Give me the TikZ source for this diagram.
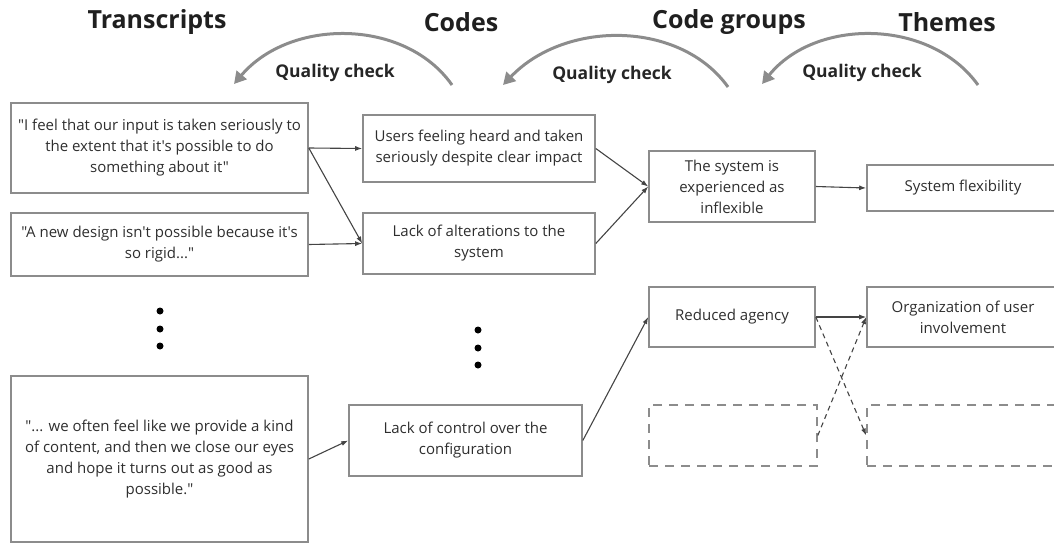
\documentclass[tikz,border=0pt]{standalone}
\usepackage{fontspec}
\setmainfont{Open Sans}[Ligatures=TeXOff]
\usetikzlibrary{positioning,arrows.meta}
\definecolor{boxgray}{HTML}{8C8C8C}
\definecolor{inkgray}{HTML}{2E2E2E}
\definecolor{linkgray}{HTML}{444444}
\tikzset{
  linkarrow/.style={-{Latex[length=7pt, width=5pt]}, line width=1.1pt, draw=linkgray},
  dasharrow/.style={linkarrow, dash pattern=on 5pt off 4pt},
  checkarrow/.style={-{Triangle[length=12pt, width=13pt]}, line width=3pt, draw=boxgray},
  quotebox/.style={draw=boxgray, line width=1.6pt, text=inkgray, align=center, inner sep=0pt, font=\fontsize{15}{21}\selectfont},
  emptybox/.style={draw=boxgray, line width=1.6pt, dash pattern=on 9pt off 7pt, inner sep=0pt},
  header/.style={font=\bfseries\fontsize{25}{28}\selectfont, text=black!88},
  checklabel/.style={font=\bfseries\fontsize{17.5}{20}\selectfont, text=black!85},
  dot/.style={circle, fill=black, inner sep=0pt, minimum size=7pt}
}
\begin{document}
\begin{tikzpicture}[x=1pt, y=-1pt]
  \useasboundingbox (0,0) rectangle (1054,543);
  % column headers
  \node[header] (hTrans) at (157,22) {Transcripts};
  \node[header] (hCodes) at (461,22) {Codes};
  \node[header] (hGroups) at (729,22) {Code groups};
  \node[header] (hThemes) at (947,22) {Themes};
  % quality checks
  \node[checklabel] (qc1) at (335,73) {Quality check};
  \node[checklabel] (qc2) at (612,75) {Quality check};
  \node[checklabel] (qc3) at (862,73) {Quality check};
  \coordinate (qc1s) at (452,85); \coordinate (qc1e) at (234,84);
  \coordinate (qc2s) at (728,87); \coordinate (qc2e) at (503,85);
  \coordinate (qc3s) at (978,85); \coordinate (qc3e) at (762,84);
  \draw[checkarrow] (qc1s) .. controls (405,18) and (290,18) .. (qc1e);
  \draw[checkarrow] (qc2s) .. controls (680,20) and (565,20) .. (qc2e);
  \draw[checkarrow] (qc3s) .. controls (930,18) and (815,18) .. (qc3e);
  % transcripts
  \node[quotebox, minimum width=297, minimum height=90] (t1) at (159.5,148)
    {"I feel that our input is taken seriously to\\the extent that it's possible to do\\something about it"};
  \node[quotebox, minimum width=297, minimum height=63] (t2) at (159.5,244.5)
    {"A new design isn't possible because it's\\so rigid..."};
  \node[quotebox, minimum width=297, minimum height=166] (t3) at (159.5,459)
    {"... we often feel like we provide a kind\\of content, and then we close our eyes\\and hope it turns out as good as\\possible."};
  % codes
  \node[quotebox, minimum width=232, minimum height=67] (c1) at (479,148.5)
    {Users feeling heard and taken\\seriously despite clear impact};
  \node[quotebox, minimum width=232, minimum height=61] (c2) at (479,243.5)
    {Lack of alterations to the\\system};
  \node[quotebox, minimum width=233, minimum height=71] (c3) at (465.5,440.5)
    {Lack of control over the\\configuration};
  % code groups
  \node[quotebox, minimum width=166, minimum height=71] (g1) at (732,186.5)
    {The system is\\experienced as\\inflexible};
  \node[quotebox, minimum width=166, minimum height=60] (g2) at (732,317)
    {Reduced agency};
  \node[emptybox, minimum width=168, minimum height=61] (g3) at (733,435.5) {};
  % themes
  \node[quotebox, minimum width=192, minimum height=46] (th1) at (963,188)
    {System flexibility};
  \node[quotebox, minimum width=192, minimum height=60] (th2) at (963,317)
    {Organization of user\\involvement};
  \node[emptybox, minimum width=192, minimum height=61] (th3) at (963,435.5) {};
  % more items
  \foreach \y [count=\i] in {311,329,346}
    \node[dot] (tdot\i) at (160,\y) {};
  \foreach \y [count=\i] in {330,348,365}
    \node[dot] (cdot\i) at (478,\y) {};
  % links
  \draw[linkarrow] (t1.east) -- (c1.west);
  \draw[linkarrow] (t1.east) -- (c2.west);
  \draw[linkarrow] (t2.east) -- (c2.west);
  \draw[linkarrow] (t3.east) -- (c3.west);
  \draw[linkarrow] (c1.east) -- (g1.west);
  \draw[linkarrow] (c2.east) -- (g1.west);
  \draw[linkarrow] (c3.east) -- (g2.west);
  \draw[linkarrow] (g1.east) -- (th1.west);
  \draw[linkarrow] (g2.east) -- (th2.west);
  \draw[dasharrow] (g2.east) -- (th3.west);
  \draw[dasharrow] (g3.east) -- (th2.west);
\end{tikzpicture}
\end{document}
